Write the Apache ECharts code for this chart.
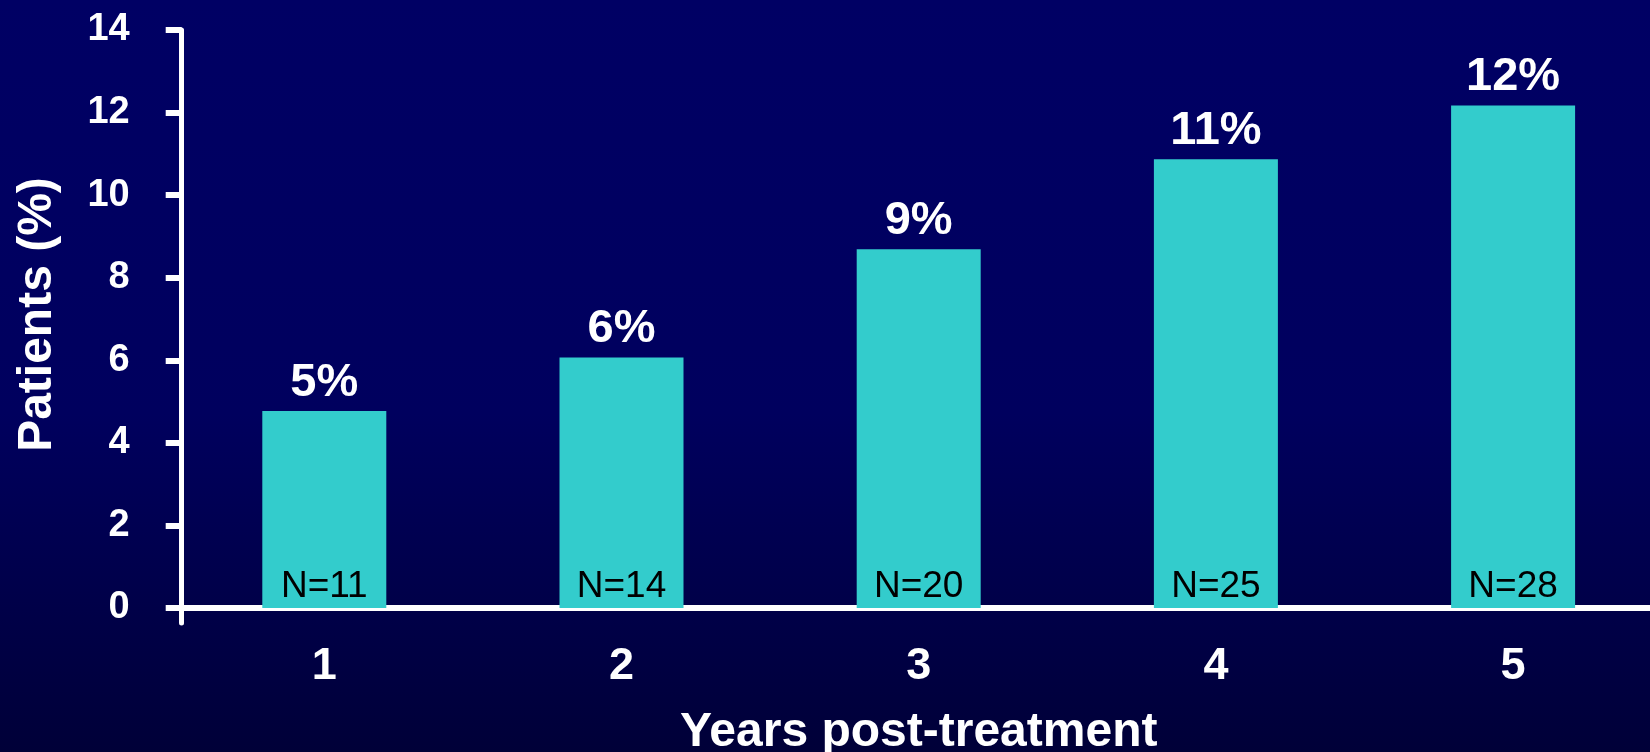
<!DOCTYPE html>
<html><head><meta charset="utf-8">
<script src="https://cdn.jsdelivr.net/npm/echarts@6/dist/echarts.min.js"></script>
<style>
html,body{margin:0;padding:0;background:#000050;}
#c{width:1650px;height:752px;background:linear-gradient(to bottom,#000064 0%,#00005e 55%,#000038 100%);}
</style>
</head><body><div id="c"></div>
<script>
const categories = ['1', '2', '3', '4', '5'];
const patientsPct = [4.77, 6.07, 8.69, 10.87, 12.17];
const pctLabels = ['5%', '6%', '9%', '11%', '12%'];
const nLabels = ['N=11', 'N=14', 'N=20', 'N=25', 'N=28'];
const yTicks = [0, 2, 4, 6, 8, 10, 12, 14];

const FONT = '"Liberation Sans", Arial, sans-serif';
const chart = echarts.init(document.getElementById('c'), null, {renderer: 'canvas'});
chart.setOption({
  backgroundColor: 'transparent',
  animation: false,
  grid: {left: 175.7, right: -11.7, top: 30, bottom: 129, containLabel: false, outerBoundsMode: 'none'},
  xAxis: {
    type: 'category',
    data: categories,
    axisLine: {show: true, onZero: true, lineStyle: {color: '#ffffff', width: 6}},
    axisTick: {show: false},
    axisLabel: {color: '#ffffff', fontSize: 45, fontWeight: 'bold', fontFamily: FONT, margin: 21},
    name: 'Years post-treatment',
    nameLocation: 'middle',
    nameGap: 86,
    nameTextStyle: {color: '#ffffff', fontSize: 48, fontWeight: 'bold', fontFamily: FONT}
  },
  yAxis: {
    type: 'value',
    min: -0.3635,
    max: 14,
    offset: -6,
    splitLine: {show: false},
    axisLine: {show: true, lineStyle: {color: '#ffffff', width: 5}},
    axisTick: {show: true, customValues: yTicks, length: 16, lineStyle: {color: '#ffffff', width: 6}},
    axisLabel: {customValues: yTicks, color: '#ffffff', fontSize: 38, fontWeight: 'bold', fontFamily: FONT, margin: 52},
    name: 'Patients (%)',
    nameLocation: 'middle',
    nameGap: 120,
    nameTextStyle: {color: '#ffffff', fontSize: 48, fontWeight: 'bold', fontFamily: FONT, padding: [0, 0, 0, 24]}
  },
  series: [
    {
      type: 'bar',
      data: patientsPct,
      barWidth: 124,
      itemStyle: {color: '#33CCCC'},
      label: {
        show: true, position: 'top', distance: 5,
        formatter: p => pctLabels[p.dataIndex],
        color: '#ffffff', fontSize: 47, fontWeight: 'bold', fontFamily: FONT
      }
    },
    {
      type: 'bar',
      data: patientsPct,
      barWidth: 124,
      barGap: '-100%',
      silent: true,
      itemStyle: {color: 'rgba(0,0,0,0)'},
      label: {
        show: true, position: 'insideBottom', distance: 3,
        formatter: p => nLabels[p.dataIndex],
        color: '#000000', fontSize: 37, fontFamily: FONT
      }
    }
  ]
});
</script>
</body></html>
